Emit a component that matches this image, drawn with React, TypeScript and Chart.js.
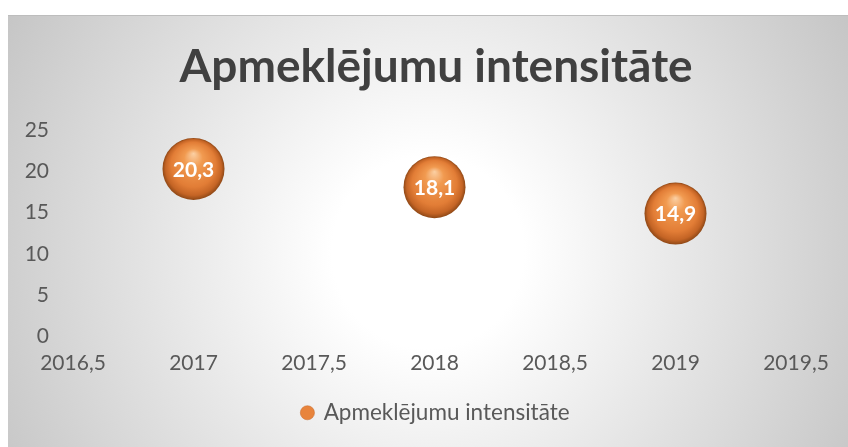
import React, { useEffect, useRef } from "react";
import { Chart, registerables } from "chart.js";

Chart.register(...registerables);

const seriesName = "Apmeklējumu intensitāte";
const chartTitle = "Apmeklējumu intensitāte";
const years = [2017, 2018, 2019];
const values = [20.3, 18.1, 14.9];
const bubbleSizes = [31, 31, 31];
const xMin = 2016.5;
const xMax = 2019.5;
const yMin = 0;
const yMax = 25;

const fmt = (v: number) => String(v).replace(".", ",");

function sphereGradient(ctx: CanvasRenderingContext2D, cx: number, cy: number, r: number) {
  const g = ctx.createRadialGradient(cx, cy - r * 0.5, 0, cx, cy, r);
  g.addColorStop(0, "#fbd0a4");
  g.addColorStop(0.3, "#f19a50");
  g.addColorStop(0.72, "#e27d36");
  g.addColorStop(0.9, "#c46425");
  g.addColorStop(1, "#8f4816");
  return g;
}

const bgPlugin = {
  id: "bgPlugin",
  beforeDraw(chart: any) {
    const { ctx, width, height } = chart;
    ctx.save();
    const cx = width * 0.5;
    const cy = height * 0.55;
    const g = ctx.createRadialGradient(cx, cy, 0, cx, cy, 480);
    g.addColorStop(0, "#ffffff");
    g.addColorStop(0.2, "#ffffff");
    g.addColorStop(1, "#c6c6c6");
    ctx.fillStyle = g;
    ctx.fillRect(0, 0, width, height);
    ctx.strokeStyle = "#bdbdbd";
    ctx.lineWidth = 1;
    ctx.beginPath();
    ctx.moveTo(0, 0.5);
    ctx.lineTo(width, 0.5);
    ctx.stroke();
    ctx.restore();
  },
};

const labelPlugin = {
  id: "labelPlugin",
  afterDatasetsDraw(chart: any) {
    const { ctx } = chart;
    const meta = chart.getDatasetMeta(0);
    ctx.save();
    ctx.fillStyle = "#ffffff";
    ctx.font = "bold 21px Lato";
    ctx.textAlign = "center";
    ctx.textBaseline = "middle";
    meta.data.forEach((el: any, i: number) => {
      ctx.fillText(fmt(values[i]), el.x, el.y + 1);
    });
    ctx.restore();
  },
};

export default function App() {
  const ref = useRef<HTMLCanvasElement | null>(null);
  useEffect(() => {
    if (!ref.current) return;
    const chart = new Chart(ref.current, {
      type: "bubble",
      data: {
        datasets: [
          {
            label: seriesName,
            data: years.map((x, i) => ({ x, y: values[i], r: bubbleSizes[i] })),
            backgroundColor: (c: any) => {
              const ch = c.chart;
              if (!ch || !ch.scales || !ch.scales.x || !ch.scales.y || c.raw == null) return "#e27d36";
              const px = ch.scales.x.getPixelForValue(c.raw.x);
              const py = ch.scales.y.getPixelForValue(c.raw.y);
              if (!isFinite(px) || !isFinite(py)) return "#e27d36";
              return sphereGradient(ch.ctx, px, py, c.raw.r);
            },
            borderWidth: 0,
            hoverBorderWidth: 0,
          },
        ],
      },
      options: {
        animation: false,
        responsive: true,
        maintainAspectRatio: false,
        events: [],
        layout: { padding: { left: 16, right: 0, top: 0, bottom: 13 } },
        plugins: {
          tooltip: { enabled: false },
          title: {
            display: true,
            text: chartTitle,
            color: "#404040",
            font: { family: "Lato", size: 46, weight: "bold", lineHeight: 1.2 },
            padding: { top: 25, bottom: 35 },
          },
          legend: {
            position: "bottom",
            labels: {
              color: "#595959",
              font: { family: "Lato", size: 22.5 },
              usePointStyle: true,
              boxWidth: 10,
              boxHeight: 10,
              padding: 10,
              generateLabels: () => [
                {
                  text: seriesName,
                  fillStyle: "#e8843c",
                  strokeStyle: "#c46425",
                  lineWidth: 0.5,
                  pointStyle: "circle",
                  hidden: false,
                  datasetIndex: 0,
                  fontColor: "#595959",
                } as any,
              ],
            },
          },
        },
        scales: {
          x: {
            type: "linear",
            min: xMin,
            max: xMax,
            grid: { display: false, drawTicks: false },
            border: { display: false },
            ticks: {
              stepSize: 0.5,
              color: "#595959",
              font: { family: "Lato", size: 21 },
              padding: 14,
              maxRotation: 0,
              callback: (v: any) => fmt(Number(v)),
            },
            afterFit: (s: any) => {
              s.height = 55;
            },
          },
          y: {
            type: "linear",
            min: yMin,
            max: yMax,
            grid: { display: false, drawTicks: false },
            border: { display: false },
            ticks: {
              stepSize: 5,
              color: "#595959",
              font: { family: "Lato", size: 21 },
              padding: 24,
              callback: (v: any) => fmt(Number(v)),
            },
            afterFit: (s: any) => {
              s.width = 49;
            },
          },
          yRight: {
            type: "linear",
            position: "right",
            display: true,
            grid: { display: false, drawTicks: false },
            border: { display: false },
            ticks: { display: false },
            afterFit: (s: any) => {
              s.width = 52;
            },
          },
        },
      } as any,
      plugins: [bgPlugin, labelPlugin],
    });
    return () => chart.destroy();
  }, []);
  return (
    <div style={{ position: "absolute", left: 8, top: 15, width: 840, height: 432 }}>
      <canvas ref={ref} />
    </div>
  );
}
